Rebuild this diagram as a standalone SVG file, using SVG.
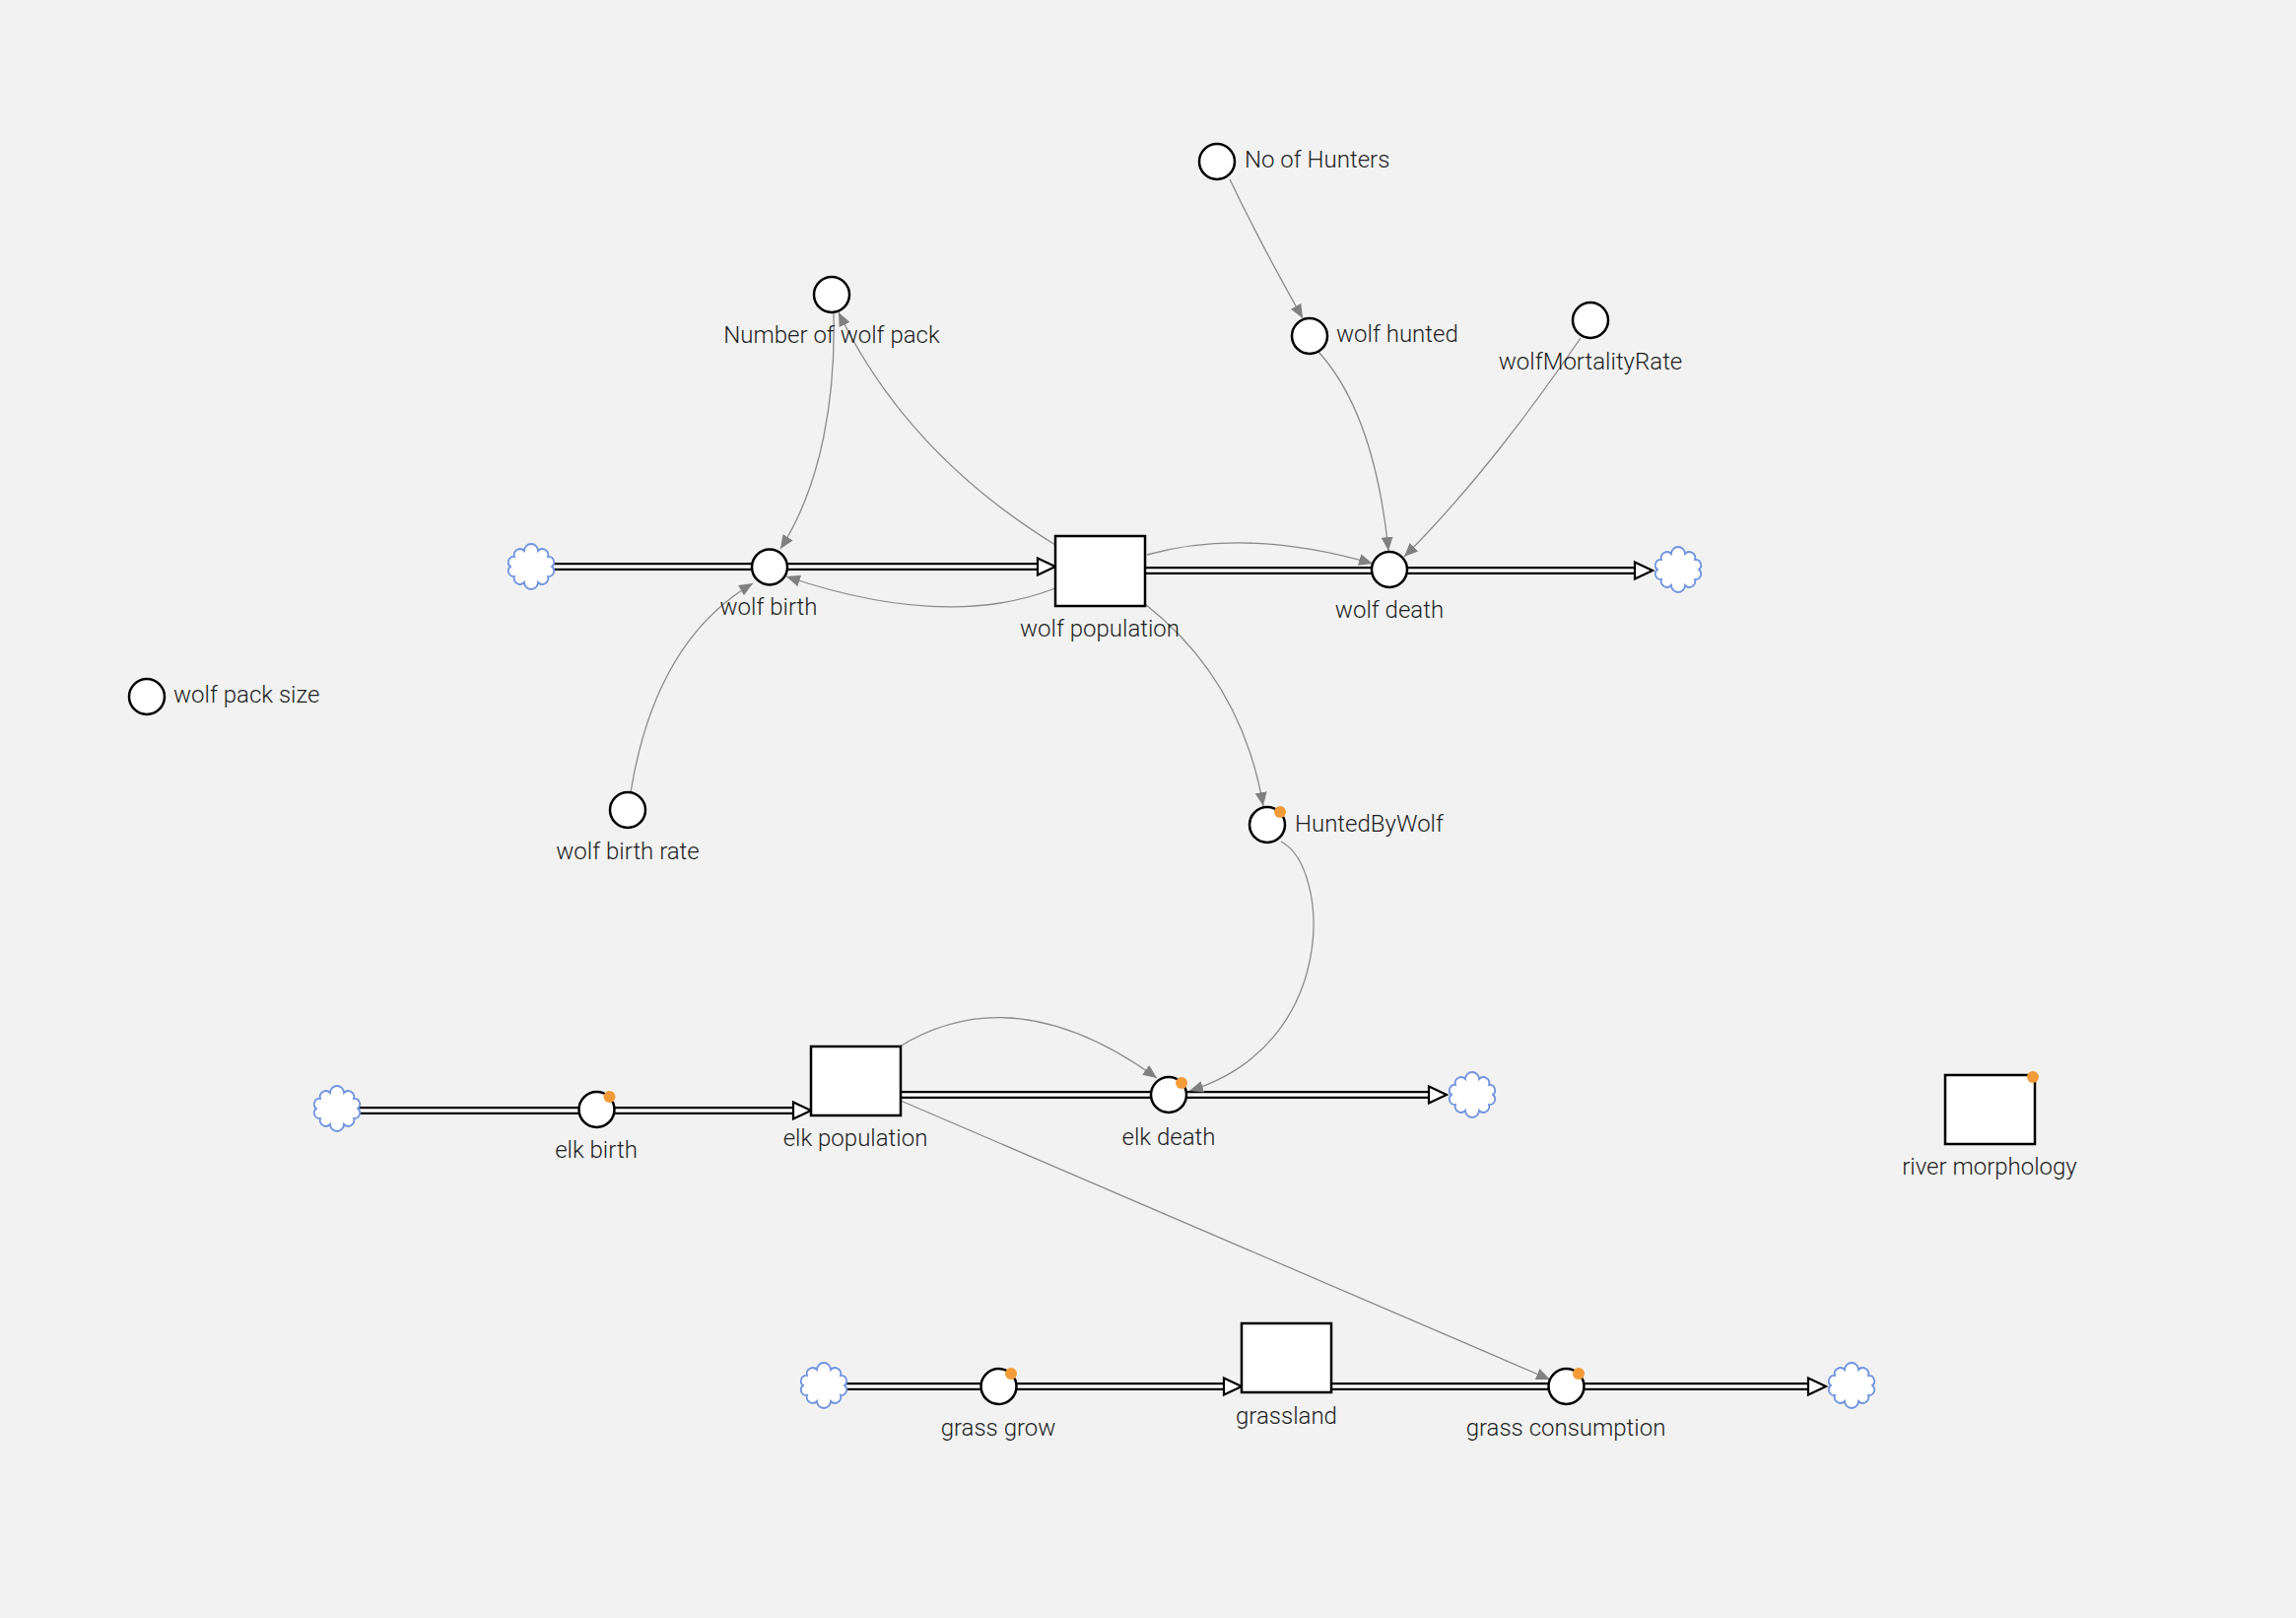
<svg xmlns="http://www.w3.org/2000/svg" width="2330" height="1642" viewBox="0 0 2330 1642">
<style>
.bg{fill:#f2f2f2}
.aux{fill:#fff;stroke:#000;stroke-width:2.5}
.stock{fill:#fff;stroke:#000;stroke-width:2.5}
.pipeO{fill:none;stroke:#000;stroke-width:8}
.pipeI{fill:none;stroke:#fff;stroke-width:3.5}
.pipeHead{fill:#fff;stroke:#000;stroke-width:2.2;stroke-linejoin:miter}
.cloud{fill:#fff;stroke:#6f93e0;stroke-width:1.8}
.link{fill:none;stroke:#8a8a8a;stroke-width:1.3}
.dot{fill:#f29b38}
text{font-family:Roboto,"Liberation Sans",sans-serif;font-weight:300;font-size:24px;fill:#1e1e1e}
.c{text-anchor:middle}
</style>
<defs>
<marker id="ah" viewBox="0 0 14 12" refX="14" refY="6" markerWidth="14" markerHeight="12" markerUnits="userSpaceOnUse" orient="auto">
<path d="M0,0 L14,6 L0,12 z" fill="#808080"/>
</marker>
<path id="cloud" d="M-17,10 A5.6,5.6 0 0 1 -21,0 A5.6,5.6 0 0 1 -17,-10 A6,6 0 0 1 -7,-16 A7,7 0 0 1 7,-16 A6,6 0 0 1 17,-10 A5.6,5.6 0 0 1 21,0 A5.6,5.6 0 0 1 17,10 A6,6 0 0 1 7,16 A7,7 0 0 1 -7,16 A6,6 0 0 1 -17,10 Z"/>
</defs>
<rect class="bg" x="0" y="0" width="2330" height="1642"/>

<g id="connectors">
<!-- flows (pipes) -->
<path class="pipeO" d="M560,575 L1056,575"/>
<path class="pipeI" d="M560,575 L1056,575"/>
<path class="pipeO" d="M1162,579 L1661,579"/>
<path class="pipeI" d="M1160,579 L1661,579"/>
<path class="pipeO" d="M364,1127 L808,1127"/>
<path class="pipeI" d="M364,1127 L808,1127"/>
<path class="pipeO" d="M914,1111 L1452,1111"/>
<path class="pipeI" d="M912,1111 L1452,1111"/>
<path class="pipeO" d="M857,1407 L1244,1407"/>
<path class="pipeI" d="M857,1407 L1244,1407"/>
<path class="pipeO" d="M1351,1407 L1837,1407"/>
<path class="pipeI" d="M1349,1407 L1837,1407"/>
<polygon class="pipeHead" points="1071,575 1053,566.5 1053,583.5"/>
<polygon class="pipeHead" points="1677,579 1659,570.5 1659,587.5"/>
<polygon class="pipeHead" points="823,1127 805,1118.5 805,1135.5"/>
<polygon class="pipeHead" points="1468,1111 1450,1102.5 1450,1119.5"/>
<polygon class="pipeHead" points="1260,1407 1242,1398.5 1242,1415.5"/>
<polygon class="pipeHead" points="1853,1407 1835,1398.5 1835,1415.5"/>
<!-- influences -->
<path class="link" marker-end="url(#ah)" d="M1071,553 Q920,460 851,317"/>
<path class="link" marker-end="url(#ah)" d="M846,318 C848,400 835,490 792,557"/>
<path class="link" marker-end="url(#ah)" d="M1071,597 Q960,640 798,585"/>
<path class="link" marker-end="url(#ah)" d="M640,804 Q665,650 764,592"/>
<path class="link" marker-end="url(#ah)" d="M1164,563 Q1265,535 1393,572"/>
<path class="link" marker-end="url(#ah)" d="M1338,357 Q1395,420 1409,559"/>
<path class="link" marker-end="url(#ah)" d="M1604,343 Q1511,479 1425,565"/>
<path class="link" marker-end="url(#ah)" d="M1248,182 Q1278,245 1322,323"/>
<path class="link" marker-end="url(#ah)" d="M1162,613 Q1260,690 1282,818"/>
<path class="link" marker-end="url(#ah)" d="M1300,854 C1350,880 1360,1060 1207,1107"/>
<path class="link" marker-end="url(#ah)" d="M913,1062 Q1030,990 1174,1094"/>
<path class="link" marker-end="url(#ah)" d="M914,1117 L1573,1400"/>
</g>

<g id="cloud-wolf-src"><use href="#cloud" class="cloud" x="539" y="575"/></g>
<g id="cloud-wolf-sink"><use href="#cloud" class="cloud" x="1703" y="578"/></g>
<g id="cloud-elk-src"><use href="#cloud" class="cloud" x="342" y="1125"/></g>
<g id="cloud-elk-sink"><use href="#cloud" class="cloud" x="1494" y="1111"/></g>
<g id="cloud-grass-src"><use href="#cloud" class="cloud" x="836" y="1406"/></g>
<g id="cloud-grass-sink"><use href="#cloud" class="cloud" x="1879" y="1406"/></g>

<g id="no-of-hunters"><circle class="aux" cx="1235" cy="164" r="18"/><text x="1263" y="170">No of Hunters</text></g>
<g id="wolf-hunted"><circle class="aux" cx="1329" cy="341" r="18"/><text x="1356" y="347">wolf hunted</text></g>
<g id="wolf-mortality-rate"><circle class="aux" cx="1614" cy="325" r="18"/><text class="c" x="1614" y="375">wolfMortalityRate</text></g>
<g id="number-of-wolf-pack"><circle class="aux" cx="844" cy="299" r="18"/><text class="c" x="844" y="348">Number of wolf pack</text></g>
<g id="wolf-pack-size"><circle class="aux" cx="149" cy="707" r="18"/><text x="176" y="713">wolf pack size</text></g>
<g id="wolf-birth-rate"><circle class="aux" cx="637" cy="822" r="18"/><text class="c" x="637" y="872">wolf birth rate</text></g>
<g id="hunted-by-wolf"><circle class="aux" cx="1286" cy="837" r="18"/><circle class="dot" cx="1299" cy="824" r="6"/><text x="1314" y="844">HuntedByWolf</text></g>
<g id="wolf-birth"><circle class="aux" cx="781" cy="575.5" r="18"/><text class="c" x="780" y="624">wolf birth</text></g>
<g id="wolf-population"><rect class="stock" x="1071" y="544" width="91" height="71"/><text class="c" x="1116" y="646">wolf population</text></g>
<g id="wolf-death"><circle class="aux" cx="1410" cy="578" r="18"/><text class="c" x="1410" y="627">wolf death</text></g>
<g id="elk-birth"><circle class="aux" cx="605.5" cy="1126" r="18"/><circle class="dot" cx="618.5" cy="1113" r="6"/><text class="c" x="605" y="1175">elk birth</text></g>
<g id="elk-population"><rect class="stock" x="823" y="1062" width="91" height="70"/><text class="c" x="868" y="1163">elk population</text></g>
<g id="elk-death"><circle class="aux" cx="1186" cy="1111" r="18"/><circle class="dot" cx="1199" cy="1099" r="6"/><text class="c" x="1186" y="1162">elk death</text></g>
<g id="grass-grow"><circle class="aux" cx="1013.5" cy="1407" r="18"/><circle class="dot" cx="1026" cy="1394" r="6"/><text class="c" x="1013" y="1457">grass grow</text></g>
<g id="grassland"><rect class="stock" x="1260" y="1343" width="91" height="70"/><text class="c" x="1305.5" y="1445">grassland</text></g>
<g id="grass-consumption"><circle class="aux" cx="1589.5" cy="1407" r="18"/><circle class="dot" cx="1602" cy="1394" r="6"/><text class="c" x="1589" y="1457">grass consumption</text></g>
<g id="river-morphology"><rect class="stock" x="1974" y="1091" width="91" height="70"/><circle class="dot" cx="2063" cy="1093" r="6"/><text class="c" x="2019" y="1192">river morphology</text></g>
</svg>
